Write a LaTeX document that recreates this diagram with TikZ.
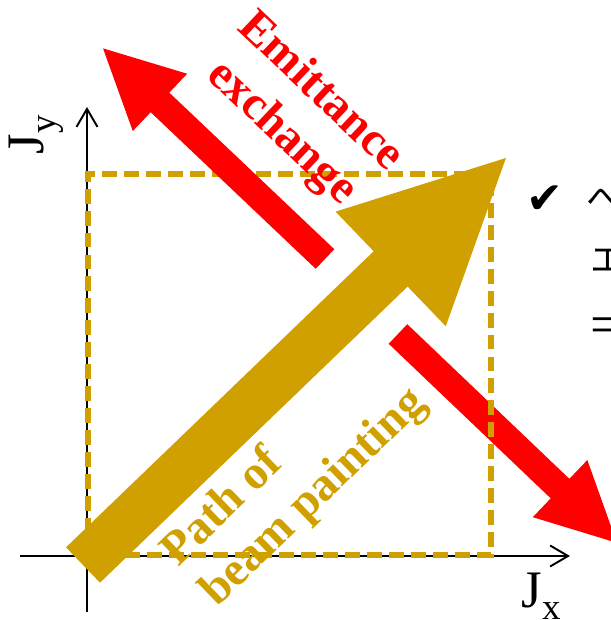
\documentclass[tikz,border=0pt]{standalone}
\usepackage{fontspec}
\setmainfont{Liberation Serif}
\newfontfamily\symfont{DejaVu Sans}
\newfontfamily\jpfont{Noto Sans CJK JP}
\usepackage{xcolor}
\usetikzlibrary{arrows.meta}
\definecolor{beamgold}{RGB}{208,160,0}
\definecolor{exred}{RGB}{255,0,0}

\begin{document}
\begin{tikzpicture}[
  axis/.style={line width=1.1pt, -{Straight Barb[length=0.36cm, width=0.42cm]}},
  window/.style={draw=beamgold, line width=3.2pt, dash pattern=on 8.5pt off 4pt},
  biglabel/.style={font=\bfseries\fontsize{27}{32}\selectfont, inner sep=0pt},
  axlabel/.style={font=\fontsize{30}{34}\selectfont, inner sep=0pt},
  fragment/.style={font=\jpfont\fontsize{20}{24}\selectfont, inner sep=0pt}
]
\useasboundingbox (-1.74,-1.28) rectangle (10.48,11.12);

% axes
\coordinate (xfrom) at (-1.34,0);
\coordinate (xto) at (9.66,0);
\coordinate (yfrom) at (0,-1.12);
\coordinate (yto) at (0,8.98);
\draw[axis] (xfrom) -- (xto);
\draw[axis] (yfrom) -- (yto);
\node[axlabel] (jx) at (9.08,-0.80) {J\raisebox{-0.22em}{\fontsize{21}{21}\selectfont x}};
\node[axlabel, rotate=90] (jy) at (-1.02,8.42) {J\raisebox{-0.22em}{\fontsize{21}{21}\selectfont y}};

% emittance exchange, lower half
\begin{scope}[shift={(6.22,4.44)}, rotate=-43.65]
  \fill[exred] (0,-0.27) -- (4.48,-0.27) -- (4.48,-0.79) -- (6.05,0)
    -- (4.48,0.79) -- (4.48,0.27) -- (0,0.27) -- cycle;
\end{scope}

% painting window
\draw[window] (0.02,0.02) rectangle (8.08,7.64);

% emittance exchange, upper half
\begin{scope}[shift={(4.76,5.94)}, rotate=136.5]
  \fill[exred] (0,-0.27) -- (4.55,-0.27) -- (4.55,-0.79) -- (6.12,0)
    -- (4.55,0.79) -- (4.55,0.27) -- (0,0.27) -- cycle;
\end{scope}

% path of beam painting
\begin{scope}[shift={(-0.08,-0.18)}, rotate=43.9]
  \fill[beamgold] (0,-0.49) -- (8.54,-0.49) -- (8.54,-1.59) -- (11.74,0)
    -- (8.54,1.59) -- (8.54,0.49) -- (0,0.49) -- cycle;
\end{scope}

% labels
\node[biglabel, exred, rotate=-43.5, align=center] (emit) at (4.27,8.86) {Emittance\\exchange};
\node[biglabel, beamgold, rotate=44, align=left] (paint) at (4.16,1.56) {Path of\\beam painting};

% text cut at the right edge
\node[font=\symfont\fontsize{25}{28}\selectfont, inner sep=0pt] (tick) at (9.16,7.12) {✔};
\node[fragment] (he) at (10.35,7.12) {へ};
\node[fragment] (e) at (10.42,5.90) {エ};
\node[font=\fontsize{32}{36}\selectfont, inner sep=0pt, anchor=west] (eq) at (10.06,4.50) {=};
\end{tikzpicture}
\end{document}
